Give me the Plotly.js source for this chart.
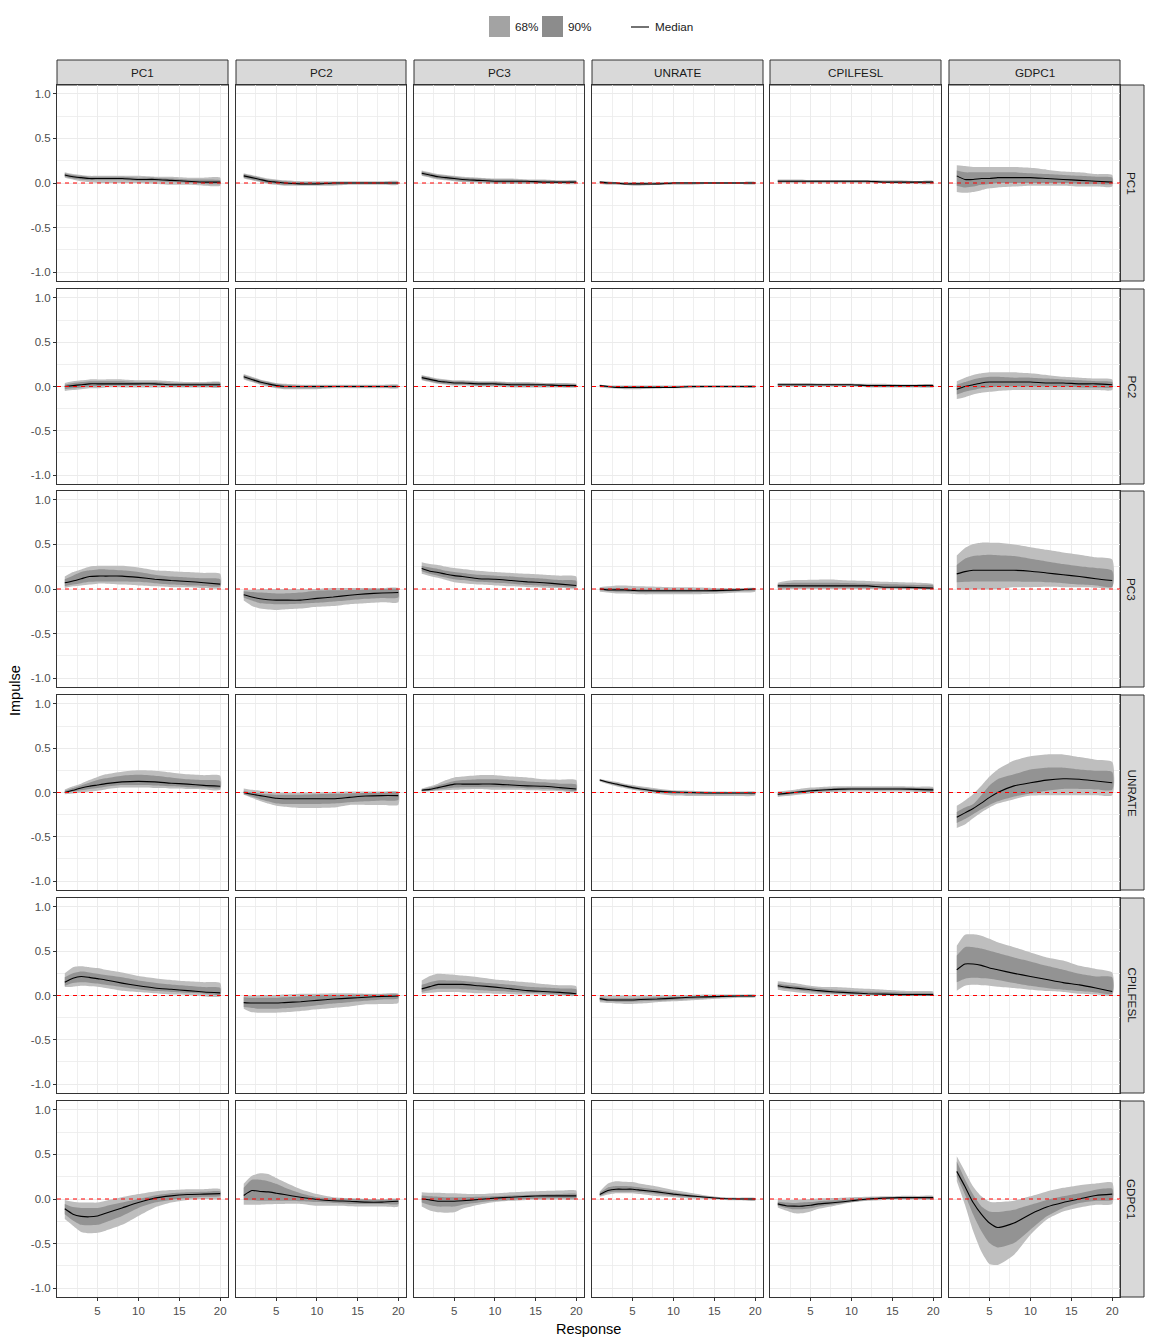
<!DOCTYPE html>
<html>
<head>
<meta charset="utf-8">
<script src="https://cdn.plot.ly/plotly-3.0.1.min.js"></script>
<style>html,body{margin:0;padding:0;background:#fff;}#chart{width:1152px;height:1344px;}</style>
</head>
<body>
<div id="chart"></div>
<script>
// ---------------- DATA ----------------
const horizons = [1,2,3,4,5,6,8,10,12,14,16,18,20];
const responses = ['PC1','PC2','PC3','UNRATE','CPILFESL','GDPC1'];
const impulses  = ['PC1','PC2','PC3','UNRATE','CPILFESL','GDPC1'];
const xTickVals = [5,10,15,20];
const xTickText = ['5','10','15','20'];
const yTickVals = [-1,-0.5,0,0.5,1];
const yTickText = ['-1.0','-0.5','0.0','0.5','1.0'];
const legendLabels = ['68%','90%','Median'];

// Impulse PC1 (one inner array per response: PC1, PC2, PC3, UNRATE, CPILFESL, GDPC1)
const med_PC1 = [
 [0.09,0.07,0.06,0.05,0.05,0.05,0.05,0.04,0.04,0.03,0.02,0.01,0.01],
 [0.08,0.06,0.04,0.02,0.01,0.0,-0.01,-0.01,0.0,0.0,0.0,0.0,0.0],
 [0.11,0.09,0.07,0.06,0.05,0.04,0.03,0.02,0.02,0.02,0.01,0.01,0.01],
 [0.01,0.0,0.0,-0.01,-0.01,-0.01,-0.01,0.0,0.0,0.0,0.0,0.0,0.0],
 [0.02,0.02,0.02,0.02,0.02,0.02,0.02,0.02,0.02,0.01,0.01,0.01,0.01],
 [0.08,0.04,0.04,0.05,0.05,0.06,0.06,0.06,0.05,0.04,0.03,0.02,0.01]];
const lo68_PC1 = [
 [0.07,0.05,0.04,0.03,0.03,0.03,0.03,0.02,0.02,0.01,0.0,-0.01,-0.01],
 [0.06,0.04,0.02,0.0,-0.01,-0.02,-0.02,-0.02,-0.02,-0.01,-0.01,-0.01,-0.01],
 [0.09,0.07,0.05,0.04,0.03,0.02,0.01,0.0,0.0,0.0,0.0,0.0,0.0],
 [0.0,-0.01,-0.01,-0.02,-0.02,-0.02,-0.02,-0.01,-0.01,-0.01,-0.01,-0.01,-0.01],
 [0.01,0.01,0.01,0.01,0.01,0.01,0.01,0.01,0.01,0.0,0.0,0.0,0.0],
 [-0.03,-0.05,-0.04,-0.02,-0.01,0.0,0.0,0.0,0.0,0.0,-0.01,-0.01,-0.01]];
const hi68_PC1 = [
 [0.11,0.09,0.08,0.07,0.07,0.07,0.07,0.06,0.06,0.05,0.04,0.04,0.03],
 [0.10,0.08,0.06,0.04,0.03,0.02,0.01,0.01,0.01,0.01,0.01,0.01,0.01],
 [0.13,0.11,0.09,0.08,0.07,0.06,0.05,0.04,0.04,0.03,0.03,0.02,0.02],
 [0.02,0.01,0.01,0.0,0.0,0.0,0.0,0.01,0.01,0.01,0.01,0.01,0.01],
 [0.03,0.03,0.03,0.03,0.03,0.03,0.03,0.03,0.03,0.02,0.02,0.02,0.02],
 [0.14,0.12,0.12,0.12,0.12,0.12,0.12,0.11,0.10,0.09,0.08,0.07,0.06]];
const lo90_PC1 = [
 [0.06,0.04,0.02,0.01,0.0,0.0,0.0,0.0,-0.01,-0.02,-0.02,-0.03,-0.03],
 [0.05,0.03,0.01,-0.01,-0.02,-0.03,-0.03,-0.03,-0.03,-0.02,-0.02,-0.02,-0.02],
 [0.08,0.06,0.04,0.03,0.02,0.01,0.0,-0.01,-0.01,-0.01,-0.01,-0.01,-0.01],
 [-0.01,-0.02,-0.02,-0.02,-0.03,-0.03,-0.02,-0.02,-0.02,-0.01,-0.01,-0.01,-0.01],
 [0.0,0.0,0.0,0.0,0.0,0.0,0.0,0.0,0.0,0.0,-0.01,-0.01,-0.01],
 [-0.10,-0.11,-0.10,-0.08,-0.06,-0.05,-0.04,-0.03,-0.03,-0.03,-0.04,-0.04,-0.04]];
const hi90_PC1 = [
 [0.12,0.10,0.09,0.08,0.08,0.08,0.08,0.08,0.07,0.07,0.06,0.06,0.06],
 [0.11,0.09,0.07,0.05,0.04,0.03,0.02,0.02,0.02,0.02,0.02,0.02,0.02],
 [0.14,0.12,0.10,0.09,0.08,0.07,0.06,0.05,0.05,0.04,0.04,0.03,0.03],
 [0.02,0.02,0.01,0.01,0.01,0.01,0.01,0.01,0.01,0.01,0.01,0.01,0.01],
 [0.04,0.04,0.04,0.04,0.03,0.03,0.03,0.03,0.03,0.03,0.03,0.02,0.02],
 [0.20,0.19,0.18,0.18,0.18,0.18,0.18,0.17,0.15,0.13,0.12,0.10,0.09]];

// Impulse PC2
const med_PC2 = [
 [0.0,0.01,0.02,0.03,0.03,0.03,0.03,0.03,0.03,0.02,0.02,0.02,0.02],
 [0.11,0.08,0.05,0.03,0.01,0.0,0.0,0.0,0.0,0.0,0.0,0.0,0.0],
 [0.10,0.08,0.06,0.05,0.04,0.04,0.03,0.03,0.02,0.02,0.02,0.01,0.01],
 [0.01,0.0,-0.01,-0.01,-0.01,-0.01,-0.01,-0.01,0.0,0.0,0.0,0.0,0.0],
 [0.02,0.02,0.02,0.02,0.02,0.02,0.02,0.02,0.01,0.01,0.01,0.01,0.01],
 [-0.03,0.0,0.02,0.04,0.05,0.05,0.05,0.05,0.04,0.04,0.03,0.03,0.02]];
const lo68_PC2 = [
 [-0.03,-0.02,-0.01,0.0,0.0,0.01,0.01,0.01,0.01,0.0,0.0,0.0,0.0],
 [0.09,0.06,0.03,0.01,-0.01,-0.02,-0.02,-0.02,-0.01,-0.01,-0.01,-0.01,-0.01],
 [0.08,0.06,0.04,0.03,0.02,0.02,0.01,0.01,0.0,0.0,0.0,0.0,0.0],
 [0.0,-0.01,-0.02,-0.02,-0.02,-0.02,-0.02,-0.01,-0.01,-0.01,-0.01,-0.01,-0.01],
 [0.01,0.01,0.01,0.01,0.01,0.01,0.01,0.01,0.0,0.0,0.0,0.0,0.0],
 [-0.09,-0.06,-0.04,-0.02,-0.01,0.0,0.0,0.0,0.0,0.0,-0.01,-0.01,-0.01]];
const hi68_PC2 = [
 [0.02,0.04,0.05,0.06,0.06,0.06,0.06,0.05,0.05,0.04,0.04,0.04,0.04],
 [0.13,0.10,0.07,0.05,0.03,0.02,0.01,0.01,0.01,0.01,0.01,0.01,0.01],
 [0.12,0.10,0.08,0.07,0.06,0.06,0.05,0.05,0.04,0.04,0.03,0.03,0.02],
 [0.02,0.01,0.0,0.0,0.0,0.0,0.0,0.0,0.01,0.01,0.01,0.01,0.01],
 [0.03,0.03,0.03,0.03,0.03,0.03,0.03,0.03,0.02,0.02,0.02,0.02,0.02],
 [0.02,0.05,0.08,0.10,0.11,0.11,0.10,0.10,0.09,0.08,0.07,0.06,0.05]];
const lo90_PC2 = [
 [-0.05,-0.04,-0.03,-0.02,-0.02,-0.01,-0.01,-0.01,-0.01,-0.01,-0.01,-0.01,-0.01],
 [0.08,0.05,0.02,0.0,-0.02,-0.03,-0.03,-0.03,-0.02,-0.02,-0.02,-0.02,-0.02],
 [0.07,0.05,0.03,0.02,0.01,0.01,0.0,0.0,-0.01,-0.01,-0.01,-0.01,-0.01],
 [-0.01,-0.02,-0.02,-0.03,-0.03,-0.03,-0.02,-0.02,-0.02,-0.01,-0.01,-0.01,-0.01],
 [0.0,0.0,0.0,0.0,0.0,0.0,0.0,0.0,-0.01,-0.01,-0.01,-0.01,-0.01],
 [-0.14,-0.12,-0.09,-0.07,-0.06,-0.05,-0.04,-0.04,-0.04,-0.04,-0.04,-0.04,-0.04]];
const hi90_PC2 = [
 [0.04,0.06,0.07,0.08,0.08,0.08,0.08,0.07,0.07,0.06,0.05,0.05,0.05],
 [0.14,0.11,0.08,0.06,0.04,0.03,0.02,0.02,0.02,0.02,0.02,0.02,0.02],
 [0.13,0.11,0.09,0.08,0.07,0.07,0.06,0.06,0.05,0.05,0.04,0.04,0.03],
 [0.02,0.01,0.01,0.01,0.01,0.01,0.01,0.01,0.01,0.01,0.01,0.01,0.01],
 [0.04,0.04,0.04,0.04,0.04,0.03,0.03,0.03,0.03,0.03,0.02,0.02,0.02],
 [0.06,0.10,0.13,0.15,0.16,0.16,0.16,0.15,0.13,0.11,0.10,0.09,0.08]];

// Impulse PC3
const med_PC3 = [
 [0.07,0.09,0.115,0.14,0.145,0.145,0.145,0.13,0.11,0.095,0.085,0.07,0.055],
 [-0.065,-0.09,-0.11,-0.12,-0.125,-0.125,-0.125,-0.105,-0.09,-0.07,-0.055,-0.045,-0.04],
 [0.23,0.20,0.185,0.165,0.15,0.14,0.115,0.11,0.095,0.08,0.07,0.055,0.04],
 [0.0,-0.01,-0.01,-0.01,-0.015,-0.02,-0.02,-0.02,-0.02,-0.02,-0.015,-0.01,0.0],
 [0.035,0.035,0.035,0.035,0.035,0.035,0.035,0.035,0.035,0.02,0.02,0.015,0.01],
 [0.17,0.195,0.21,0.21,0.21,0.21,0.21,0.20,0.18,0.16,0.14,0.115,0.095]];
const lo68_PC3 = [
 [0.03,0.05,0.065,0.08,0.085,0.085,0.085,0.08,0.065,0.05,0.04,0.035,0.03],
 [-0.095,-0.13,-0.16,-0.165,-0.17,-0.17,-0.165,-0.155,-0.14,-0.125,-0.11,-0.1,-0.095],
 [0.20,0.17,0.15,0.13,0.11,0.10,0.08,0.07,0.06,0.045,0.035,0.025,0.02],
 [-0.015,-0.025,-0.03,-0.03,-0.035,-0.04,-0.04,-0.04,-0.04,-0.035,-0.03,-0.025,-0.015],
 [0.01,0.01,0.015,0.015,0.015,0.015,0.015,0.015,0.01,0.01,0.005,0.005,0.0],
 [0.075,0.08,0.085,0.085,0.085,0.085,0.085,0.08,0.075,0.065,0.05,0.04,0.025]];
const hi68_PC3 = [
 [0.11,0.15,0.19,0.21,0.22,0.22,0.21,0.19,0.16,0.14,0.13,0.12,0.11],
 [-0.025,-0.035,-0.04,-0.045,-0.05,-0.05,-0.04,-0.02,-0.015,-0.01,-0.005,0.0,0.0],
 [0.26,0.24,0.225,0.205,0.19,0.18,0.16,0.15,0.14,0.125,0.115,0.10,0.09],
 [0.01,0.01,0.01,0.005,0.0,0.0,-0.005,-0.005,-0.005,-0.005,0.0,0.0,0.005],
 [0.055,0.065,0.07,0.07,0.07,0.07,0.07,0.065,0.06,0.055,0.05,0.045,0.04],
 [0.27,0.34,0.37,0.38,0.385,0.38,0.37,0.34,0.31,0.28,0.255,0.235,0.205]];
const lo90_PC3 = [
 [0.01,0.03,0.04,0.05,0.06,0.06,0.05,0.04,0.03,0.02,0.02,0.01,0.01],
 [-0.13,-0.19,-0.22,-0.23,-0.235,-0.23,-0.22,-0.2,-0.19,-0.17,-0.16,-0.15,-0.15],
 [0.17,0.145,0.125,0.10,0.075,0.065,0.05,0.04,0.03,0.02,0.015,0.01,0.01],
 [-0.03,-0.04,-0.05,-0.05,-0.055,-0.06,-0.06,-0.06,-0.06,-0.055,-0.05,-0.04,-0.03],
 [-0.01,-0.005,0.0,0.0,0.0,0.0,0.0,0.0,0.0,0.0,0.0,0.0,0.0],
 [0.0,-0.01,-0.005,-0.005,-0.005,0.0,0.02,0.02,0.025,0.02,0.02,0.015,0.015]];
const hi90_PC3 = [
 [0.14,0.19,0.22,0.25,0.26,0.26,0.26,0.24,0.21,0.20,0.19,0.18,0.17],
 [-0.01,-0.01,0.0,0.0,0.0,0.0,0.0,0.0,0.01,0.01,0.01,0.01,0.01],
 [0.30,0.28,0.27,0.25,0.235,0.225,0.205,0.19,0.18,0.17,0.16,0.15,0.14],
 [0.02,0.03,0.04,0.04,0.035,0.03,0.025,0.02,0.02,0.015,0.01,0.01,0.01],
 [0.07,0.09,0.10,0.10,0.105,0.105,0.105,0.095,0.09,0.08,0.075,0.07,0.055],
 [0.375,0.46,0.505,0.52,0.52,0.52,0.50,0.47,0.44,0.41,0.385,0.355,0.33]];

// Impulse UNRATE
const med_UNRATE = [
 [0.0,0.025,0.05,0.07,0.085,0.1,0.12,0.125,0.12,0.105,0.095,0.08,0.07],
 [0.0,-0.02,-0.035,-0.05,-0.065,-0.07,-0.07,-0.07,-0.07,-0.055,-0.04,-0.035,-0.035],
 [0.025,0.035,0.055,0.075,0.095,0.095,0.095,0.095,0.085,0.075,0.07,0.055,0.04],
 [0.14,0.115,0.095,0.075,0.055,0.04,0.015,0.005,0.0,-0.005,-0.005,-0.005,-0.005],
 [-0.02,-0.01,0.0,0.01,0.02,0.025,0.035,0.04,0.04,0.04,0.04,0.035,0.03],
 [-0.28,-0.23,-0.18,-0.12,-0.055,0.0,0.075,0.11,0.14,0.155,0.15,0.13,0.11]];
const lo68_UNRATE = [
 [-0.005,0.01,0.025,0.04,0.05,0.065,0.085,0.085,0.08,0.07,0.06,0.055,0.05],
 [-0.02,-0.045,-0.075,-0.1,-0.125,-0.13,-0.13,-0.13,-0.125,-0.11,-0.1,-0.09,-0.085],
 [0.015,0.02,0.035,0.045,0.055,0.06,0.06,0.06,0.055,0.045,0.04,0.03,0.02],
 [0.132,0.105,0.082,0.062,0.042,0.027,0.0,-0.015,-0.02,-0.02,-0.02,-0.02,-0.02],
 [-0.035,-0.025,-0.015,-0.005,0.005,0.01,0.02,0.025,0.025,0.025,0.025,0.02,0.015],
 [-0.345,-0.30,-0.245,-0.19,-0.14,-0.10,-0.045,-0.01,0.02,0.04,0.04,0.035,0.03]];
const hi68_UNRATE = [
 [0.02,0.05,0.08,0.11,0.14,0.16,0.19,0.20,0.19,0.17,0.15,0.14,0.13],
 [0.02,0.0,-0.01,-0.02,-0.025,-0.025,-0.025,-0.02,-0.015,-0.01,-0.005,0.0,0.0],
 [0.035,0.055,0.08,0.105,0.13,0.14,0.15,0.15,0.14,0.125,0.115,0.10,0.09],
 [0.148,0.125,0.108,0.088,0.07,0.055,0.03,0.015,0.01,0.005,0.005,0.0,0.0],
 [-0.005,0.005,0.015,0.025,0.035,0.04,0.05,0.055,0.055,0.055,0.055,0.05,0.045],
 [-0.22,-0.17,-0.13,-0.03,0.08,0.15,0.205,0.26,0.28,0.28,0.26,0.245,0.23]];
const lo90_UNRATE = [
 [-0.02,-0.01,0.0,0.01,0.02,0.035,0.055,0.055,0.05,0.045,0.04,0.035,0.03],
 [-0.025,-0.06,-0.095,-0.125,-0.15,-0.16,-0.175,-0.175,-0.17,-0.14,-0.14,-0.14,-0.14],
 [0.01,0.015,0.02,0.025,0.03,0.035,0.04,0.03,0.03,0.025,0.02,0.015,0.01],
 [0.125,0.095,0.07,0.05,0.03,0.015,-0.015,-0.035,-0.04,-0.04,-0.04,-0.04,-0.035],
 [-0.05,-0.04,-0.03,-0.02,-0.01,-0.005,0.005,0.01,0.01,0.01,0.01,0.005,0.0],
 [-0.40,-0.36,-0.29,-0.225,-0.17,-0.125,-0.075,-0.035,-0.03,-0.03,-0.03,-0.03,-0.03]];
const hi90_UNRATE = [
 [0.035,0.07,0.10,0.14,0.175,0.205,0.235,0.25,0.245,0.225,0.205,0.195,0.19],
 [0.045,0.03,0.02,0.01,0.0,0.0,0.0,0.0,0.005,0.01,0.01,0.01,0.01],
 [0.045,0.07,0.10,0.14,0.17,0.18,0.195,0.195,0.18,0.17,0.15,0.145,0.14],
 [0.155,0.135,0.12,0.10,0.085,0.07,0.045,0.025,0.02,0.015,0.01,0.01,0.01],
 [0.01,0.02,0.03,0.045,0.055,0.06,0.07,0.07,0.07,0.07,0.07,0.065,0.06],
 [-0.15,-0.09,-0.02,0.075,0.18,0.26,0.36,0.41,0.43,0.43,0.40,0.37,0.345]];

// Impulse CPILFESL
const med_CPILFESL = [
 [0.15,0.195,0.215,0.205,0.19,0.175,0.14,0.11,0.085,0.07,0.055,0.04,0.03],
 [-0.08,-0.085,-0.085,-0.085,-0.085,-0.08,-0.07,-0.055,-0.04,-0.03,-0.02,-0.01,-0.005],
 [0.075,0.10,0.125,0.125,0.125,0.125,0.11,0.095,0.075,0.055,0.045,0.035,0.02],
 [-0.035,-0.05,-0.05,-0.05,-0.05,-0.045,-0.04,-0.03,-0.02,-0.015,-0.01,-0.005,-0.005],
 [0.11,0.095,0.085,0.075,0.065,0.055,0.04,0.03,0.02,0.015,0.01,0.01,0.01],
 [0.29,0.355,0.355,0.34,0.31,0.29,0.25,0.215,0.18,0.145,0.12,0.085,0.045]];
const lo68_CPILFESL = [
 [0.11,0.14,0.15,0.145,0.135,0.12,0.095,0.07,0.05,0.04,0.03,0.02,0.01],
 [-0.13,-0.14,-0.15,-0.15,-0.15,-0.145,-0.13,-0.11,-0.09,-0.075,-0.06,-0.045,-0.035],
 [0.04,0.06,0.075,0.075,0.075,0.07,0.06,0.05,0.04,0.03,0.02,0.01,0.005],
 [-0.055,-0.065,-0.07,-0.07,-0.07,-0.065,-0.06,-0.05,-0.04,-0.03,-0.02,-0.015,-0.01],
 [0.09,0.075,0.065,0.055,0.045,0.035,0.02,0.015,0.01,0.005,0.0,0.0,0.0],
 [0.15,0.19,0.20,0.195,0.19,0.175,0.14,0.11,0.085,0.065,0.05,0.035,0.02]];
const hi68_CPILFESL = [
 [0.205,0.25,0.27,0.26,0.245,0.23,0.205,0.17,0.145,0.125,0.11,0.095,0.085],
 [-0.02,-0.025,-0.025,-0.025,-0.025,-0.02,-0.01,0.0,0.005,0.005,0.01,0.01,0.01],
 [0.12,0.15,0.17,0.17,0.17,0.165,0.15,0.135,0.12,0.10,0.09,0.08,0.07],
 [-0.02,-0.03,-0.03,-0.03,-0.03,-0.025,-0.02,-0.015,-0.01,-0.005,0.0,0.0,0.0],
 [0.135,0.12,0.11,0.1,0.09,0.08,0.065,0.055,0.045,0.04,0.035,0.03,0.025],
 [0.45,0.545,0.545,0.53,0.505,0.48,0.43,0.385,0.335,0.29,0.245,0.215,0.205]];
const lo90_CPILFESL = [
 [0.095,0.10,0.11,0.105,0.10,0.085,0.055,0.04,0.025,0.01,0.005,-0.01,-0.01],
 [-0.15,-0.19,-0.195,-0.195,-0.195,-0.19,-0.175,-0.155,-0.14,-0.125,-0.10,-0.095,-0.085],
 [0.02,0.03,0.04,0.04,0.04,0.035,0.025,0.02,0.015,0.01,0.005,0.0,0.0],
 [-0.075,-0.085,-0.09,-0.095,-0.095,-0.09,-0.075,-0.065,-0.055,-0.045,-0.035,-0.025,-0.02],
 [0.065,0.05,0.04,0.03,0.02,0.015,0.01,0.0,0.0,0.0,0.0,0.0,0.0],
 [0.055,0.11,0.12,0.115,0.11,0.10,0.085,0.065,0.05,0.04,0.02,0.01,0.0]];
const hi90_CPILFESL = [
 [0.25,0.32,0.33,0.32,0.31,0.29,0.26,0.22,0.195,0.175,0.16,0.15,0.14],
 [0.0,0.0,0.005,0.005,0.005,0.01,0.02,0.02,0.025,0.025,0.02,0.02,0.02],
 [0.17,0.22,0.245,0.24,0.235,0.225,0.205,0.18,0.165,0.15,0.13,0.115,0.105],
 [0.0,0.0,0.0,0.0,0.0,0.0,0.0,0.005,0.005,0.01,0.01,0.01,0.01],
 [0.16,0.15,0.14,0.125,0.11,0.10,0.095,0.085,0.075,0.065,0.055,0.05,0.045],
 [0.56,0.685,0.69,0.675,0.64,0.60,0.545,0.485,0.43,0.395,0.335,0.30,0.26]];

// Impulse GDPC1
const med_GDPC1 = [
 [-0.11,-0.17,-0.195,-0.2,-0.19,-0.16,-0.1,-0.04,0.01,0.035,0.05,0.055,0.06],
 [0.04,0.095,0.085,0.08,0.065,0.05,0.02,-0.005,-0.02,-0.025,-0.035,-0.035,-0.025],
 [0.0,-0.01,-0.025,-0.025,-0.025,-0.02,-0.005,0.01,0.02,0.03,0.035,0.035,0.035],
 [0.05,0.095,0.11,0.11,0.11,0.10,0.08,0.055,0.035,0.02,0.005,0.0,0.0],
 [-0.055,-0.075,-0.08,-0.08,-0.07,-0.055,-0.04,-0.02,0.0,0.01,0.015,0.015,0.015],
 [0.31,0.14,-0.04,-0.17,-0.27,-0.32,-0.27,-0.17,-0.09,-0.04,0.0,0.04,0.055]];
const lo68_GDPC1 = [
 [-0.17,-0.24,-0.29,-0.295,-0.29,-0.26,-0.19,-0.1,-0.04,-0.01,0.01,0.025,0.035],
 [-0.01,-0.015,-0.02,-0.02,-0.02,-0.02,-0.025,-0.035,-0.045,-0.055,-0.055,-0.055,-0.055],
 [-0.04,-0.07,-0.085,-0.085,-0.085,-0.065,-0.04,-0.02,-0.01,0.0,0.005,0.01,0.01],
 [0.035,0.07,0.08,0.08,0.08,0.075,0.055,0.035,0.02,0.01,0.0,-0.005,-0.01],
 [-0.075,-0.1,-0.115,-0.115,-0.105,-0.085,-0.06,-0.035,-0.01,0.0,0.005,0.005,0.005],
 [0.255,0.05,-0.175,-0.36,-0.495,-0.545,-0.495,-0.345,-0.195,-0.1,-0.045,-0.02,-0.01]];
const hi68_GDPC1 = [
 [-0.055,-0.09,-0.1,-0.1,-0.1,-0.08,-0.04,0.0,0.04,0.065,0.075,0.08,0.085],
 [0.125,0.215,0.215,0.2,0.17,0.13,0.065,0.02,0.005,0.0,-0.005,-0.01,-0.01],
 [0.04,0.03,0.025,0.02,0.02,0.02,0.025,0.03,0.04,0.045,0.05,0.055,0.055],
 [0.07,0.13,0.145,0.145,0.14,0.13,0.105,0.075,0.05,0.03,0.015,0.01,0.005],
 [-0.03,-0.04,-0.045,-0.04,-0.035,-0.025,-0.015,0.0,0.015,0.02,0.025,0.025,0.025],
 [0.42,0.22,0.05,-0.08,-0.14,-0.145,-0.12,-0.065,-0.01,0.03,0.065,0.105,0.115]];
const lo90_GDPC1 = [
 [-0.225,-0.3,-0.37,-0.385,-0.38,-0.355,-0.29,-0.19,-0.095,-0.04,-0.01,0.0,0.0],
 [-0.065,-0.065,-0.065,-0.06,-0.055,-0.055,-0.055,-0.075,-0.075,-0.08,-0.085,-0.085,-0.085],
 [-0.085,-0.13,-0.15,-0.155,-0.15,-0.11,-0.065,-0.035,-0.02,-0.01,-0.01,-0.005,-0.005],
 [0.025,0.05,0.065,0.065,0.065,0.055,0.03,0.02,0.005,0.0,-0.01,-0.015,-0.02],
 [-0.095,-0.13,-0.16,-0.16,-0.14,-0.11,-0.075,-0.04,-0.02,-0.01,-0.005,-0.005,-0.005],
 [0.2,-0.065,-0.36,-0.59,-0.73,-0.74,-0.625,-0.4,-0.23,-0.14,-0.095,-0.065,-0.055]];
const hi90_GDPC1 = [
 [-0.01,-0.03,-0.04,-0.04,-0.04,-0.02,0.02,0.055,0.085,0.1,0.11,0.11,0.11],
 [0.17,0.26,0.29,0.28,0.235,0.19,0.11,0.055,0.02,0.01,0.0,0.0,0.0],
 [0.075,0.07,0.07,0.065,0.065,0.06,0.055,0.065,0.075,0.085,0.09,0.095,0.095],
 [0.085,0.175,0.2,0.195,0.19,0.17,0.14,0.10,0.07,0.04,0.02,0.015,0.01],
 [-0.01,-0.01,-0.01,-0.005,0.0,0.005,0.01,0.02,0.025,0.03,0.035,0.035,0.035],
 [0.48,0.31,0.14,0.03,-0.03,-0.035,-0.02,0.03,0.085,0.125,0.155,0.175,0.185]];

const MED  = {PC1:med_PC1, PC2:med_PC2, PC3:med_PC3, UNRATE:med_UNRATE, CPILFESL:med_CPILFESL, GDPC1:med_GDPC1};
const LO68 = {PC1:lo68_PC1, PC2:lo68_PC2, PC3:lo68_PC3, UNRATE:lo68_UNRATE, CPILFESL:lo68_CPILFESL, GDPC1:lo68_GDPC1};
const HI68 = {PC1:hi68_PC1, PC2:hi68_PC2, PC3:hi68_PC3, UNRATE:hi68_UNRATE, CPILFESL:hi68_CPILFESL, GDPC1:hi68_GDPC1};
const LO90 = {PC1:lo90_PC1, PC2:lo90_PC2, PC3:lo90_PC3, UNRATE:lo90_UNRATE, CPILFESL:lo90_CPILFESL, GDPC1:lo90_GDPC1};
const HI90 = {PC1:hi90_PC1, PC2:hi90_PC2, PC3:hi90_PC3, UNRATE:hi90_UNRATE, CPILFESL:hi90_CPILFESL, GDPC1:hi90_GDPC1};

// ---------------- LAYOUT ----------------
const W = 1152, Hpx = 1344;
const colL = [57,236,414,592,770,949];
const colR = [228,406,584,763,941,1120];
const rowT = [85,289,491,695,898,1101];
const rowB = [281,484,687,890,1093,1297];
const px = v => v / W;
const py = v => 1 - v / Hpx;

const OUTER = '#BEBEBE', INNER = '#939393';
const FONT = 'Liberation Sans, Arial, sans-serif';
const gridC = '#EBEBEB';

const traces = [];
const layout = {
  width: W, height: Hpx,
  margin: {l:0, r:0, t:0, b:0},
  paper_bgcolor: '#ffffff', plot_bgcolor: '#ffffff',
  showlegend: false,
  font: {family: FONT, size: 12, color: '#1A1A1A'},
  shapes: [], annotations: []
};

const revH = horizons.slice().reverse();
function band(lo, hi) { return hi.concat(lo.slice().reverse()); }

impulses.forEach((imp, r) => {
  responses.forEach((resp, c) => {
    const k = r * 6 + c + 1;
    const xa = k === 1 ? 'x' : 'x' + k;
    const ya = k === 1 ? 'y' : 'y' + k;
    const xKey = k === 1 ? 'xaxis' : 'xaxis' + k;
    const yKey = k === 1 ? 'yaxis' : 'yaxis' + k;
    const bottom = (r === 5), left = (c === 0);

    layout[xKey] = {
      domain: [px(colL[c]), px(colR[c])], anchor: ya,
      range: [0.05, 20.95], tickmode: 'array', tickvals: xTickVals, ticktext: xTickText,
      showticklabels: bottom, ticks: bottom ? 'outside' : '', ticklen: 3, tickwidth: 1, tickcolor: '#333333',
      tickfont: {family: FONT, size: 11.5, color: '#4D4D4D'},
      showgrid: true, gridcolor: gridC, gridwidth: 1,
      minor: {tickmode: 'array', tickvals: [2.5,7.5,12.5,17.5], showgrid: true, gridcolor: gridC, gridwidth: 0.8, ticks: ''},
      zeroline: false, showline: true, mirror: true, linecolor: '#333333', linewidth: 1, fixedrange: true
    };
    layout[yKey] = {
      domain: [py(rowB[r]), py(rowT[r])], anchor: xa,
      range: [-1.1, 1.1], tickmode: 'array', tickvals: yTickVals, ticktext: yTickText,
      showticklabels: left, ticks: left ? 'outside' : '', ticklen: 3, tickwidth: 1, tickcolor: '#333333',
      tickfont: {family: FONT, size: 11.5, color: '#4D4D4D'},
      showgrid: true, gridcolor: gridC, gridwidth: 1,
      minor: {tickmode: 'array', tickvals: [-0.75,-0.25,0.25,0.75], showgrid: true, gridcolor: gridC, gridwidth: 0.8, ticks: ''},
      zeroline: false, showline: true, mirror: true, linecolor: '#333333', linewidth: 1, fixedrange: true
    };

    const xs = horizons.concat(revH);
    traces.push({type:'scatter', mode:'lines', x: xs, y: band(LO90[imp][c], HI90[imp][c]),
      fill:'toself', fillcolor: OUTER, line:{width:0, color: OUTER, shape:'spline', smoothing:0.6}, xaxis: xa, yaxis: ya, hoverinfo:'skip'});
    traces.push({type:'scatter', mode:'lines', x: xs, y: band(LO68[imp][c], HI68[imp][c]),
      fill:'toself', fillcolor: INNER, line:{width:0, color: INNER, shape:'spline', smoothing:0.6}, xaxis: xa, yaxis: ya, hoverinfo:'skip'});
    traces.push({type:'scatter', mode:'lines', x: horizons, y: MED[imp][c],
      line:{color:'#000000', width:1.1, shape:'spline', smoothing:0.6}, xaxis: xa, yaxis: ya, hoverinfo:'skip'});

    layout.shapes.push({type:'line', xref: xa + ' domain', yref: ya, x0: 0, x1: 1, y0: 0, y1: 0,
      line: {color: '#FF0000', width: 1.1, dash: '4px,4px'}});
  });
});

// top strips (response)
responses.forEach((resp, c) => {
  layout.shapes.push({type:'rect', xref:'paper', yref:'paper', x0: px(colL[c]), x1: px(colR[c]), y0: py(85), y1: py(60),
    fillcolor:'#D9D9D9', line:{color:'#333333', width:1}, layer:'below'});
  layout.annotations.push({xref:'paper', yref:'paper', x: px((colL[c]+colR[c])/2), y: py(72.5), text: resp,
    showarrow:false, xanchor:'center', yanchor:'middle', font:{family: FONT, size: 11.7, color:'#1A1A1A'}});
});
// right strips (impulse)
impulses.forEach((imp, r) => {
  layout.shapes.push({type:'rect', xref:'paper', yref:'paper', x0: px(1120), x1: px(1144), y0: py(rowB[r]), y1: py(rowT[r]),
    fillcolor:'#D9D9D9', line:{color:'#333333', width:1}, layer:'below'});
  layout.annotations.push({xref:'paper', yref:'paper', x: px(1132), y: py((rowT[r]+rowB[r])/2), text: imp, textangle: 90,
    showarrow:false, xanchor:'center', yanchor:'middle', font:{family: FONT, size: 11.7, color:'#1A1A1A'}});
});

// axis titles
layout.annotations.push({xref:'paper', yref:'paper', x: px(588.5), y: py(1329), text:'Response', showarrow:false,
  xanchor:'center', yanchor:'middle', font:{family: FONT, size: 14.5, color:'#000000'}});
layout.annotations.push({xref:'paper', yref:'paper', x: px(15), y: py(691), text:'Impulse', textangle:-90, showarrow:false,
  xanchor:'center', yanchor:'middle', font:{family: FONT, size: 14.5, color:'#000000'}});

// legend
layout.shapes.push({type:'rect', xref:'paper', yref:'paper', x0: px(489), x1: px(510), y0: py(37), y1: py(16), fillcolor:'#A3A3A3', line:{width:0}});
layout.shapes.push({type:'rect', xref:'paper', yref:'paper', x0: px(542), x1: px(563), y0: py(37), y1: py(16), fillcolor:'#8C8C8C', line:{width:0}});
layout.shapes.push({type:'line', xref:'paper', yref:'paper', x0: px(631), x1: px(649), y0: py(27), y1: py(27), line:{color:'#000000', width:1.1}});
[[513, legendLabels[0]], [566, legendLabels[1]], [653, legendLabels[2]]].forEach(([x, t]) => {
  layout.annotations.push({xref:'paper', yref:'paper', x: px(x), y: py(27), text: t, showarrow:false,
    xanchor:'left', yanchor:'middle', font:{family: FONT, size: 11.7, color:'#1A1A1A'}});
});

Plotly.newPlot('chart', traces, layout, {staticPlot: true, displayModeBar: false});
</script>
</body>
</html>
